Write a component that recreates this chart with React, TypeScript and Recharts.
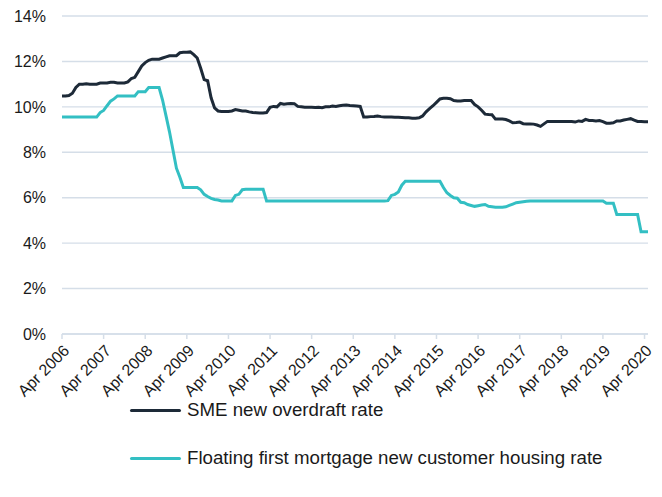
import React from "react";
import { LineChart, Line, XAxis, YAxis, CartesianGrid, Legend } from "recharts";

// Monthly observations, Apr 2006 (index 0) to May 2020 (index 169)
const smeOverdraft: number[] = [
  10.48, 10.48, 10.5, 10.6, 10.85, 11.0, 11.0, 11.02, 11.0, 11.0,
  11.0, 11.05, 11.05, 11.05, 11.08, 11.08, 11.05, 11.05, 11.05, 11.1,
  11.25, 11.3, 11.55, 11.8, 11.95, 12.05, 12.1, 12.1, 12.1, 12.15,
  12.2, 12.25, 12.25, 12.25, 12.38, 12.4, 12.4, 12.42, 12.3, 12.15,
  11.7, 11.2, 11.15, 10.4, 9.95, 9.82, 9.8, 9.8, 9.8, 9.82,
  9.88, 9.85, 9.82, 9.82, 9.78, 9.75, 9.74, 9.73, 9.73, 9.75,
  9.98, 10.02, 10.0, 10.15, 10.12, 10.14, 10.15, 10.14, 10.02, 10.0,
  9.98, 9.98, 9.98, 9.97, 9.98, 9.96, 10.0, 10.0, 10.04, 10.02,
  10.05, 10.07, 10.08, 10.06, 10.05, 10.04, 10.02, 9.55, 9.55, 9.57,
  9.58, 9.6, 9.57, 9.55, 9.55, 9.55, 9.54, 9.54, 9.53, 9.52,
  9.52, 9.5, 9.5, 9.52, 9.6, 9.78, 9.92, 10.05, 10.2, 10.35,
  10.38, 10.38, 10.36, 10.28, 10.26, 10.26, 10.28, 10.28, 10.28, 10.1,
  10.0, 9.85, 9.68, 9.66, 9.65, 9.46, 9.46, 9.46, 9.44, 9.38,
  9.3, 9.31, 9.33, 9.26, 9.25, 9.25, 9.24, 9.2, 9.14, 9.25,
  9.36, 9.36, 9.35, 9.36, 9.35, 9.36, 9.35, 9.35, 9.33, 9.38,
  9.36, 9.45, 9.4, 9.4, 9.38, 9.4, 9.35, 9.28, 9.28, 9.3,
  9.38, 9.38, 9.42, 9.45, 9.48, 9.42, 9.36, 9.35, 9.34, 9.34,
];

const floatingMortgage: number[] = [
  9.55, 9.55, 9.55, 9.55, 9.55, 9.55, 9.55, 9.55, 9.55, 9.55,
  9.55, 9.75, 9.84, 10.05, 10.25, 10.35, 10.48, 10.48, 10.48, 10.48,
  10.48, 10.48, 10.67, 10.67, 10.67, 10.85, 10.85, 10.85, 10.85, 10.3,
  9.6, 8.9, 8.1, 7.3, 6.9, 6.45, 6.45, 6.45, 6.45, 6.45,
  6.35, 6.15, 6.05, 5.97, 5.92, 5.9, 5.86, 5.86, 5.86, 5.86,
  6.1, 6.15, 6.35, 6.37, 6.37, 6.37, 6.37, 6.37, 6.37, 5.85,
  5.85, 5.85, 5.85, 5.85, 5.85, 5.85, 5.85, 5.85, 5.85, 5.85,
  5.85, 5.85, 5.85, 5.85, 5.85, 5.85, 5.85, 5.85, 5.85, 5.85,
  5.85, 5.85, 5.85, 5.86, 5.86, 5.86, 5.86, 5.86, 5.86, 5.86,
  5.86, 5.86, 5.86, 5.86, 5.87, 6.1, 6.15, 6.25, 6.55, 6.72,
  6.72, 6.72, 6.72, 6.72, 6.72, 6.72, 6.72, 6.72, 6.72, 6.72,
  6.45, 6.22, 6.1, 6.0, 5.98, 5.8, 5.78, 5.7, 5.66, 5.62,
  5.65, 5.68, 5.7, 5.62, 5.6, 5.58, 5.58, 5.58, 5.6, 5.66,
  5.72, 5.78, 5.8, 5.82, 5.84, 5.86, 5.86, 5.86, 5.86, 5.86,
  5.86, 5.86, 5.86, 5.86, 5.86, 5.86, 5.86, 5.86, 5.86, 5.86,
  5.86, 5.86, 5.86, 5.86, 5.86, 5.86, 5.86, 5.76, 5.76, 5.76,
  5.26, 5.26, 5.26, 5.26, 5.26, 5.26, 5.26, 4.5, 4.5, 4.5,
];

const xTickIndex: number[] = [0, 12, 24, 36, 48, 60, 72, 84, 96, 108, 120, 132, 144, 156, 168];
const xTickLabels: string[] = [
  "Apr 2006", "Apr 2007", "Apr 2008", "Apr 2009", "Apr 2010", "Apr 2011", "Apr 2012",
  "Apr 2013", "Apr 2014", "Apr 2015", "Apr 2016", "Apr 2017", "Apr 2018", "Apr 2019", "Apr 2020",
];
const yTicks: number[] = [0, 2, 4, 6, 8, 10, 12, 14];

const seriesNames = ["SME new overdraft rate", "Floating first mortgage new customer housing rate"];
const seriesColors = ["#1d2a38", "#33bfc3"];

const data = smeOverdraft.map((v, i) => ({ m: i, sme: v, mortgage: floatingMortgage[i] }));

const FONT = "'Liberation Sans', Arial, sans-serif";

const XTick = (props: any) => {
  const { x, y, payload } = props;
  const idx = xTickIndex.indexOf(payload.value);
  return (
    <g transform={`translate(${x - 3},${y + 5})`}>
      <text
        x={0}
        y={0}
        dx={4}
        dy={12}
        textAnchor="end"
        fill="#1a1a1a"
        fontSize={16}
        fontFamily={FONT}
        transform="rotate(-45)"
      >
        {idx >= 0 ? xTickLabels[idx] : ""}
      </text>
    </g>
  );
};

const LegendContent = () => (
  <div style={{ position: "relative", width: 662, height: 90 }}>
    {seriesNames.map((n, i) => (
      <div
        key={n}
        style={{
          position: "absolute",
          left: 130,
          top: i * 48,
          height: 24,
          display: "flex",
          alignItems: "center",
          fontFamily: FONT,
          fontSize: 18.7,
          color: "#1a1a1a",
          whiteSpace: "nowrap",
        }}
      >
        <span
          style={{
            display: "inline-block",
            width: 51,
            height: 3,
            borderRadius: 2,
            background: seriesColors[i],
            marginRight: 6,
          }}
        />
        {n}
      </div>
    ))}
  </div>
);

export default function App() {
  return (
    <div style={{ position: "absolute", left: 0, top: 0, width: 662, height: 497, background: "#fff" }}>
      <LineChart
        width={662}
        height={497}
        data={data}
        margin={{ top: 16, right: 14, left: 0, bottom: 0 }}
      >
        <CartesianGrid horizontal vertical={false} stroke="#d5dee8" strokeWidth={1.4} />
        <XAxis
          dataKey="m"
          type="number"
          domain={[0, 169]}
          ticks={xTickIndex}
          interval={0}
          height={70}
          axisLine={{ stroke: "#d5dee8", strokeWidth: 1.5 }}
          tickLine={{ stroke: "#d5dee8", strokeWidth: 1.5 }}
          tickSize={5}
          tick={<XTick />}
        />
        <YAxis
          domain={[0, 14]}
          ticks={yTicks}
          width={62}
          axisLine={false}
          tickLine={false}
          tickMargin={10}
          tickFormatter={(v: number) => `${v}%`}
          tick={{ fill: "#1a1a1a", fontSize: 16, fontFamily: FONT }}
        />
        <Legend
          verticalAlign="bottom"
          height={93}
          content={<LegendContent />}
          wrapperStyle={{ left: 0, width: 662, bottom: 0, top: 398 }}
        />
        <Line
          type="linear"
          dataKey="sme"
          name={seriesNames[0]}
          stroke={seriesColors[0]}
          strokeWidth={3}
          dot={false}
          isAnimationActive={false}
        />
        <Line
          type="linear"
          dataKey="mortgage"
          name={seriesNames[1]}
          stroke={seriesColors[1]}
          strokeWidth={3}
          dot={false}
          isAnimationActive={false}
        />
      </LineChart>
    </div>
  );
}
